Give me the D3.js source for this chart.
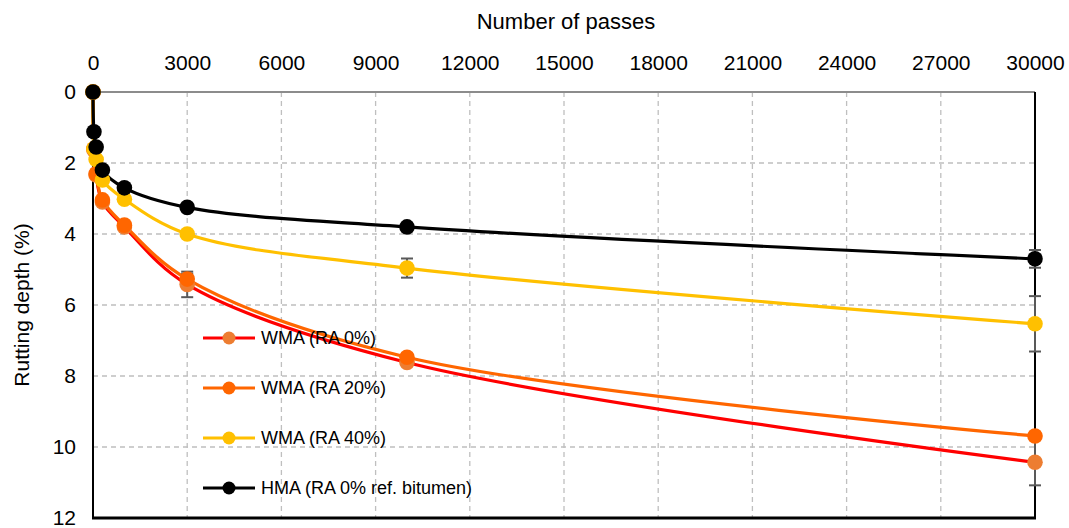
<!DOCTYPE html>
<html>
<head>
<meta charset="utf-8">
<script src="https://cdn.jsdelivr.net/npm/d3@7"></script>
<style>
  html, body { margin: 0; padding: 0; background: #fff; }
  svg { display: block; font-family: "Liberation Sans", Arial, sans-serif; }
</style>
</head>
<body>
<svg id="chart" width="1069" height="528"></svg>
<script>
// ---- data ----
const passes = [0, 30, 100, 300, 1000, 3000, 10000, 30000];
const xTicks = [0, 3000, 6000, 9000, 12000, 15000, 18000, 21000, 24000, 27000, 30000];
const yTicks = [0, 2, 4, 6, 8, 10, 12];
const seriesNames = ["WMA (RA 0%)", "WMA (RA 20%)", "WMA (RA 40%)", "HMA (RA 0% ref. bitumen)"];
const wma0  = [0, 1.63, 2.34, 3.10, 3.80, 5.42, 7.62, 10.43];
const wma20 = [0, 1.60, 2.30, 3.04, 3.75, 5.27, 7.47, 9.69];
const wma40 = [0, 1.60, 1.90, 2.48, 3.02, 4.00, 4.96, 6.53];
const hma   = [0, 1.12, 1.55, 2.20, 2.70, 3.25, 3.80, 4.70];
const errWma0  = [0, 0, 0, 0, 0, 0.36, 0.10, 0.65];
const errWma20 = [0, 0, 0, 0, 0, 0.15, 0.10, 0.10];
const errWma40 = [0, 0, 0, 0, 0, 0.05, 0.27, 0.78];
const errHma   = [0, 0, 0, 0, 0, 0.05, 0.10, 0.25];

(function () {
const seriesStyle = [
  { line: "#ff0000", marker: "#ed7d31" },
  { line: "#ff6600", marker: "#ff6600" },
  { line: "#ffc000", marker: "#ffc000" },
  { line: "#000000", marker: "#000000" }
];
const seriesVals = [wma0, wma20, wma40, hma];
const seriesErr = [errWma0, errWma20, errWma40, errHma];

// ---- layout ----
const svg = d3.select("#chart");
const pL = 93, pR = 1035, pT = 92, pB = 518;
const x = d3.scaleLinear().domain([0, 30000]).range([pL, pR]);
const y = d3.scaleLinear().domain([0, 12]).range([pT, pB]);

// gridlines
const grid = svg.append("g");
grid.selectAll("line.v").data(xTicks.slice(1, -1)).join("line")
  .attr("x1", d => x(d)).attr("x2", d => x(d))
  .attr("y1", pT).attr("y2", pB)
  .attr("stroke", "#bfbfbf").attr("stroke-width", 1.3).attr("stroke-dasharray", "5,4");
grid.selectAll("line.h").data(yTicks.slice(1, -1)).join("line")
  .attr("x1", pL).attr("x2", pR)
  .attr("y1", d => y(d)).attr("y2", d => y(d))
  .attr("stroke", "#bfbfbf").attr("stroke-width", 1.3).attr("stroke-dasharray", "5,4");

// borders
svg.append("line").attr("x1", pL).attr("x2", pR).attr("y1", pT).attr("y2", pT)
  .attr("stroke", "#8c8c8c").attr("stroke-width", 2);
svg.append("line").attr("x1", pR).attr("x2", pR).attr("y1", pT).attr("y2", pB)
  .attr("stroke", "#000").attr("stroke-width", 2);

// axes
const xAxis = d3.axisTop(x).tickValues(xTicks).tickSize(0).tickPadding(0).tickFormat(d3.format("d"));
const gx = svg.append("g").attr("transform", `translate(0,${pT})`).call(xAxis);
gx.select(".domain").remove();
gx.selectAll("text").attr("y", -22).attr("font-size", 21).attr("fill", "#000")
  .attr("font-family", "'Liberation Sans', Arial, sans-serif");

const yAxis = d3.axisLeft(y).tickValues(yTicks).tickSize(0).tickPadding(0);
const gy = svg.append("g").attr("transform", `translate(${pL},0)`).call(yAxis);
gy.select(".domain").remove();
gy.selectAll("text").attr("x", -17).attr("font-size", 21).attr("fill", "#000")
  .attr("font-family", "'Liberation Sans', Arial, sans-serif");

svg.append("line").attr("x1", pL).attr("x2", pL).attr("y1", pT).attr("y2", pB + 1)
  .attr("stroke", "#000").attr("stroke-width", 2);
svg.append("line").attr("x1", pL - 1).attr("x2", pR + 1).attr("y1", pB).attr("y2", pB)
  .attr("stroke", "#000").attr("stroke-width", 3);

// titles
svg.append("text").attr("x", (pL + pR) / 2 + 2).attr("y", 29).attr("text-anchor", "middle")
  .attr("font-size", 22).text("Number of passes");
svg.append("text").attr("transform", `translate(29,${(pT + pB) / 2}) rotate(-90)`)
  .attr("text-anchor", "middle").attr("font-size", 21).text("Rutting depth (%)");

// lines
const lineGen = d3.line().x(d => x(d[0])).y(d => y(d[1])).curve(d3.curveCatmullRom.alpha(0.5));
const plot = svg.append("g");
seriesVals.forEach((vals, i) => {
  const pts = passes.map((p, j) => [p, vals[j]]);
  plot.append("path").datum(pts).attr("d", lineGen)
    .attr("fill", "none").attr("stroke", seriesStyle[i].line).attr("stroke-width", 3.2);
});

// error bars
seriesVals.forEach((vals, i) => {
  const pts = passes.map((p, j) => ({ p, v: vals[j], e: seriesErr[i][j] })).filter(d => d.e > 0);
  const g = plot.append("g").attr("stroke", "#595959").attr("stroke-width", 2);
  g.selectAll("line.bar").data(pts).join("line")
    .attr("x1", d => x(d.p)).attr("x2", d => x(d.p))
    .attr("y1", d => y(d.v - d.e)).attr("y2", d => y(d.v + d.e));
  g.selectAll("line.capT").data(pts).join("line")
    .attr("x1", d => x(d.p) - 6).attr("x2", d => x(d.p) + 6)
    .attr("y1", d => y(d.v - d.e)).attr("y2", d => y(d.v - d.e));
  g.selectAll("line.capB").data(pts).join("line")
    .attr("x1", d => x(d.p) - 6).attr("x2", d => x(d.p) + 6)
    .attr("y1", d => y(d.v + d.e)).attr("y2", d => y(d.v + d.e));
});

// markers
seriesVals.forEach((vals, i) => {
  plot.append("g").selectAll("circle").data(passes.map((p, j) => [p, vals[j]])).join("circle")
    .attr("cx", d => x(d[0])).attr("cy", d => y(d[1])).attr("r", 7.8)
    .attr("fill", seriesStyle[i].marker);
});

// legend
const legY = [338, 388, 438, 488];
const leg = svg.append("g");
seriesNames.forEach((name, i) => {
  const g = leg.append("g").attr("transform", `translate(0,${legY[i]})`);
  g.append("line").attr("x1", 203).attr("x2", 255).attr("y1", 0).attr("y2", 0)
    .attr("stroke", seriesStyle[i].line).attr("stroke-width", 3);
  g.append("circle").attr("cx", 229).attr("cy", 0).attr("r", 6.5).attr("fill", seriesStyle[i].marker);
  g.append("text").attr("x", 261).attr("y", 0).attr("dy", "0.35em")
    .attr("font-size", 18).text(name);
});
})();
</script>
</body>
</html>
